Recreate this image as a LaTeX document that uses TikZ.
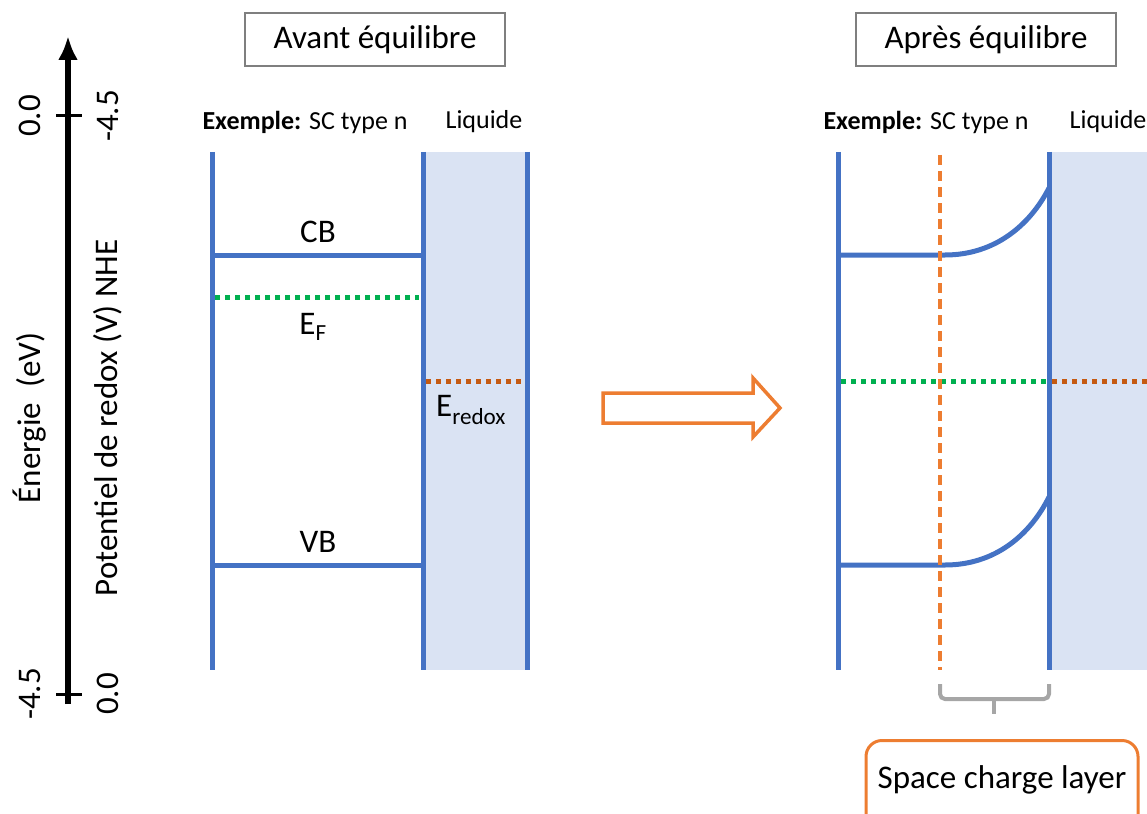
\documentclass[tikz,border=0pt]{standalone}
\usepackage{fontspec}
\setmainfont{Carlito}
\usetikzlibrary{arrows.meta}
\definecolor{bandblue}{HTML}{4472C4}
\definecolor{liqfill}{HTML}{DAE3F3}
\definecolor{fermigreen}{HTML}{00B050}
\definecolor{redoxorange}{HTML}{C55A11}
\definecolor{lightorange}{HTML}{ED7D31}
\definecolor{framegray}{HTML}{7F7F7F}
\definecolor{bracegray}{HTML}{A6A6A6}
\tikzset{
  band/.style={draw=bandblue,line width=5pt},
  fermi/.style={draw=fermigreen,line width=5pt,dash pattern=on 5pt off 5pt},
  redox/.style={draw=redoxorange,line width=5pt,dash pattern=on 5pt off 5pt},
  titlebox/.style={draw=framegray,line width=2pt,minimum width=260pt,minimum height=53pt,inner sep=0pt,font=\fontsize{33}{36}\selectfont},
  lbl/.style={inner sep=0pt,font=\fontsize{33}{36}\selectfont},
  small/.style={inner sep=0pt,font=\fontsize{26}{30}\selectfont},
  axlbl/.style={inner sep=0pt,rotate=90,font=\fontsize{33}{36}\selectfont},
}
\begin{document}
\begin{tikzpicture}[x=1pt,y=-1pt]
\useasboundingbox (0,0) rectangle (1147,813);
% axis
\coordinate (axb) at (68,704);
\coordinate (axt) at (68,36);
\draw[line width=5.5pt,-{Latex[length=24pt,width=20pt]}] (axb) -- (axt);
\coordinate (t1l) at (56,116); \coordinate (t1r) at (82,116);
\coordinate (t2l) at (56,694); \coordinate (t2r) at (82,694);
\draw[line width=3pt] (t1l) -- (t1r);
\draw[line width=3pt] (t2l) -- (t2r);
\node[axlbl] (e0) at (30,116) {0.0};
\node[axlbl] (p45) at (108,116) {-4.5};
\node[axlbl] (e45) at (30,694) {-4.5};
\node[axlbl] (p0) at (108,694) {0.0};
\node[axlbl] (elab) at (30,418) {Énergie\ \ (eV)};
\node[axlbl] (plab) at (108,418) {Potentiel de redox (V) NHE};
% left panel
\node[titlebox] (avant) at (375,40) {Avant équilibre};
\node[small] (ex1) at (305,122) {\textbf{Exemple:} SC type n};
\node[small] (liq1) at (484,122) {Liquide};
\fill[liqfill] (423,152) rectangle (527,670);
\coordinate (l1t) at (212,152); \coordinate (l1b) at (212,670);
\coordinate (i1t) at (423,152); \coordinate (i1b) at (423,670);
\coordinate (r1t) at (527,152); \coordinate (r1b) at (527,670);
\coordinate (cb1l) at (212,255); \coordinate (cb1r) at (423,255);
\coordinate (vb1l) at (212,565); \coordinate (vb1r) at (423,565);
\coordinate (ef1l) at (215,297); \coordinate (ef1r) at (419,297);
\coordinate (rd1l) at (426,381); \coordinate (rd1r) at (525,381);
\draw[fermi] (ef1l) -- (ef1r);
\draw[redox] (rd1l) -- (rd1r);
\draw[band] (l1t) -- (l1b);
\draw[band] (i1t) -- (i1b);
\draw[band] (r1t) -- (r1b);
\draw[band] (cb1l) -- (cb1r);
\draw[band] (vb1l) -- (vb1r);
\node[lbl] (cb) at (318,232) {CB};
\node[lbl] (vb) at (318,542) {VB};
\node[lbl] (ef) at (313,327) {E\textsubscript{F}};
\node[lbl] (ered) at (471,410) {E\textsubscript{redox}};
% block arrow
\draw[lightorange,line width=3.5pt,line join=miter] (603,393) -- (753,393) -- (753,378) -- (780,408) -- (753,437) -- (753,423) -- (603,423) -- cycle;
% right panel
\node[titlebox] (apres) at (986,40) {Après équilibre};
\node[small] (ex2) at (926,122) {\textbf{Exemple:} SC type n};
\node[small] (liq2) at (1108,122) {Liquide};
\fill[liqfill] (1049,152) rectangle (1147,670);
\coordinate (l2t) at (838,152); \coordinate (l2b) at (838,670);
\coordinate (i2t) at (1049,152); \coordinate (i2b) at (1049,670);
\coordinate (cb2l) at (838,255); \coordinate (cb2m) at (945,255); \coordinate (cb2r) at (1049,188);
\coordinate (vb2l) at (838,565); \coordinate (vb2m) at (945,565); \coordinate (vb2r) at (1049,497);
\coordinate (ef2l) at (841,381); \coordinate (ef2r) at (1049,381);
\coordinate (rd2l) at (1052,381); \coordinate (rd2r) at (1147,381);
\coordinate (scvt) at (940,155); \coordinate (scvb) at (940,670);
\draw[fermi] (ef2l) -- (ef2r);
\draw[redox] (rd2l) -- (rd2r);
\draw[band] (l2t) -- (l2b);
\draw[band] (i2t) -- (i2b);
\draw[band] (cb2l) -- (cb2m) .. controls (995,255) and (1030,225) .. (cb2r);
\draw[band] (vb2l) -- (vb2m) .. controls (995,565) and (1030,535) .. (vb2r);
\draw[draw=lightorange,line width=3.5pt,dash pattern=on 10pt off 6pt] (scvt) -- (scvb);
% brace
\coordinate (brl) at (940,684); \coordinate (brr) at (1049,684);
\coordinate (brm) at (994,699); \coordinate (brt) at (994,714);
\draw[bracegray,line width=4pt,rounded corners=5pt] (brl) |- (brm) -| (brr);
\draw[bracegray,line width=4pt] (brm) -- (brt);
\node[draw=lightorange,line width=3pt,rounded corners=16pt,minimum width=272pt,minimum height=90pt,anchor=north,inner sep=0pt] (scl) at (1002,739) {};
\node[inner sep=0pt,font=\fontsize{33}{36}\selectfont] (scltext) at (1002,780) {Space charge layer};
\end{tikzpicture}
\end{document}
